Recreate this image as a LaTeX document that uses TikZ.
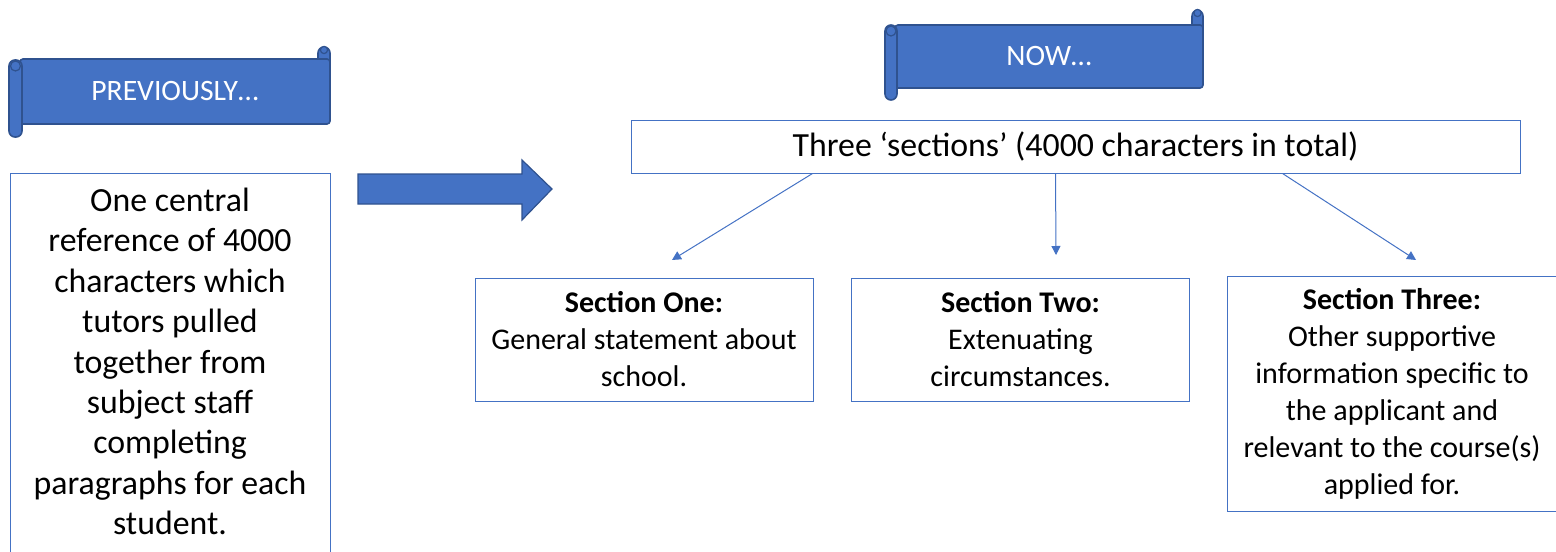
\documentclass[tikz,border=0pt]{standalone}
\usepackage{fontspec}
\setmainfont{Carlito}
\usetikzlibrary{positioning}
\usetikzlibrary{shapes.geometric, arrows.meta}

\definecolor{officeblue}{HTML}{4472C4}
\definecolor{officedark}{HTML}{2F528F}

\tikzset{
    banner/.style = {rectangle, rounded corners=1.5pt, fill=officeblue, draw=officedark, line width=0.8pt, text=white, font=\fontsize{14.8}{17}\selectfont},
    roll/.style = {fill=officeblue, draw=officedark, line width=0.8pt, rounded corners=3pt},
    box/.style = {rectangle, draw=officeblue, line width=0.5pt, align=center, font=\fontsize{15}{18.5}\selectfont},
    link/.style = {draw=officeblue, line width=0.5pt, -{Triangle[length=4.5pt, width=4.5pt]}}
}

\begin{document}
\begin{tikzpicture}[x=0.5pt, y=-0.5pt]
    \useasboundingbox (0,0) rectangle (1556,551);
    \clip (0,0) rectangle (1556,551);

    % previously banner
    \draw[roll] (318,47) rectangle (330,70);
    \node[banner, minimum width=155pt, minimum height=32.5pt] (prev) at (175,91.5) {PREVIOUSLY…};
    \draw[roll] (9,60) rectangle (22,137);
    \draw[officedark, line width=0.6pt] (15.5,66) circle (2.5pt);
    \draw[officedark, fill=officeblue, line width=0.6pt] (324,50) circle (1.8pt);

    % now banner
    \draw[roll] (1192,10) rectangle (1203,35);
    \node[banner, minimum width=154pt, minimum height=31.5pt] (now) at (1049,56.5) {NOW…};
    \draw[roll] (885,25) rectangle (897,100);
    \draw[officedark, line width=0.6pt] (891,31) circle (2.5pt);
    \draw[officedark, fill=officeblue, line width=0.6pt] (1197.5,13) circle (1.8pt);

    % old way
    \node[box, minimum width=160pt, minimum height=195pt, anchor=north, font=\fontsize{16.9}{20.2}\selectfont] (old) at (170,173)
        {One central\\reference of 4000\\characters which\\tutors pulled\\together from\\subject staff\\completing\\paragraphs for each\\student.\\[-13pt]\mbox{}};

    % big arrow
    \draw[fill=officeblue, draw=officedark, line width=0.6pt]
        (358,174) -- (522,174) -- (522,160) -- (552,189) -- (522,220) -- (522,204) -- (358,204) -- cycle;

    % new way
    \node[box, minimum width=444.5pt, minimum height=26.5pt, font=\fontsize{16.9}{20}\selectfont] (sections) at (1075.5,146.5)
        {Three ‘sections’ (4000 characters in total)};
    \node[box, minimum width=169pt, minimum height=61.5pt] (one) at (644,339.5)
        {\textbf{Section One:}\\General statement about\\school.};
    \node[box, minimum width=169pt, minimum height=61.5pt] (two) at (1020.5,339.5)
        {\textbf{Section Two:}\\Extenuating\\circumstances.};
    \node[box, minimum width=165pt, minimum height=117.5pt] (three) at (1392,393.5)
        {\textbf{Section Three:}\\Other supportive\\information specific to\\the applicant and\\relevant to the course(s)\\applied for.};

    \coordinate (tipOne) at (672,260);
    \coordinate (tipTwo) at (1056,255);
    \coordinate (tipThree) at (1416,260);
    \draw[link] ([xshift=91pt]sections.south west) -- (tipOne);
    \draw[link] ([xshift=212.5pt]sections.south west) -- (tipTwo);
    \draw[link] ([xshift=326pt]sections.south west) -- (tipThree);
\end{tikzpicture}
\end{document}
